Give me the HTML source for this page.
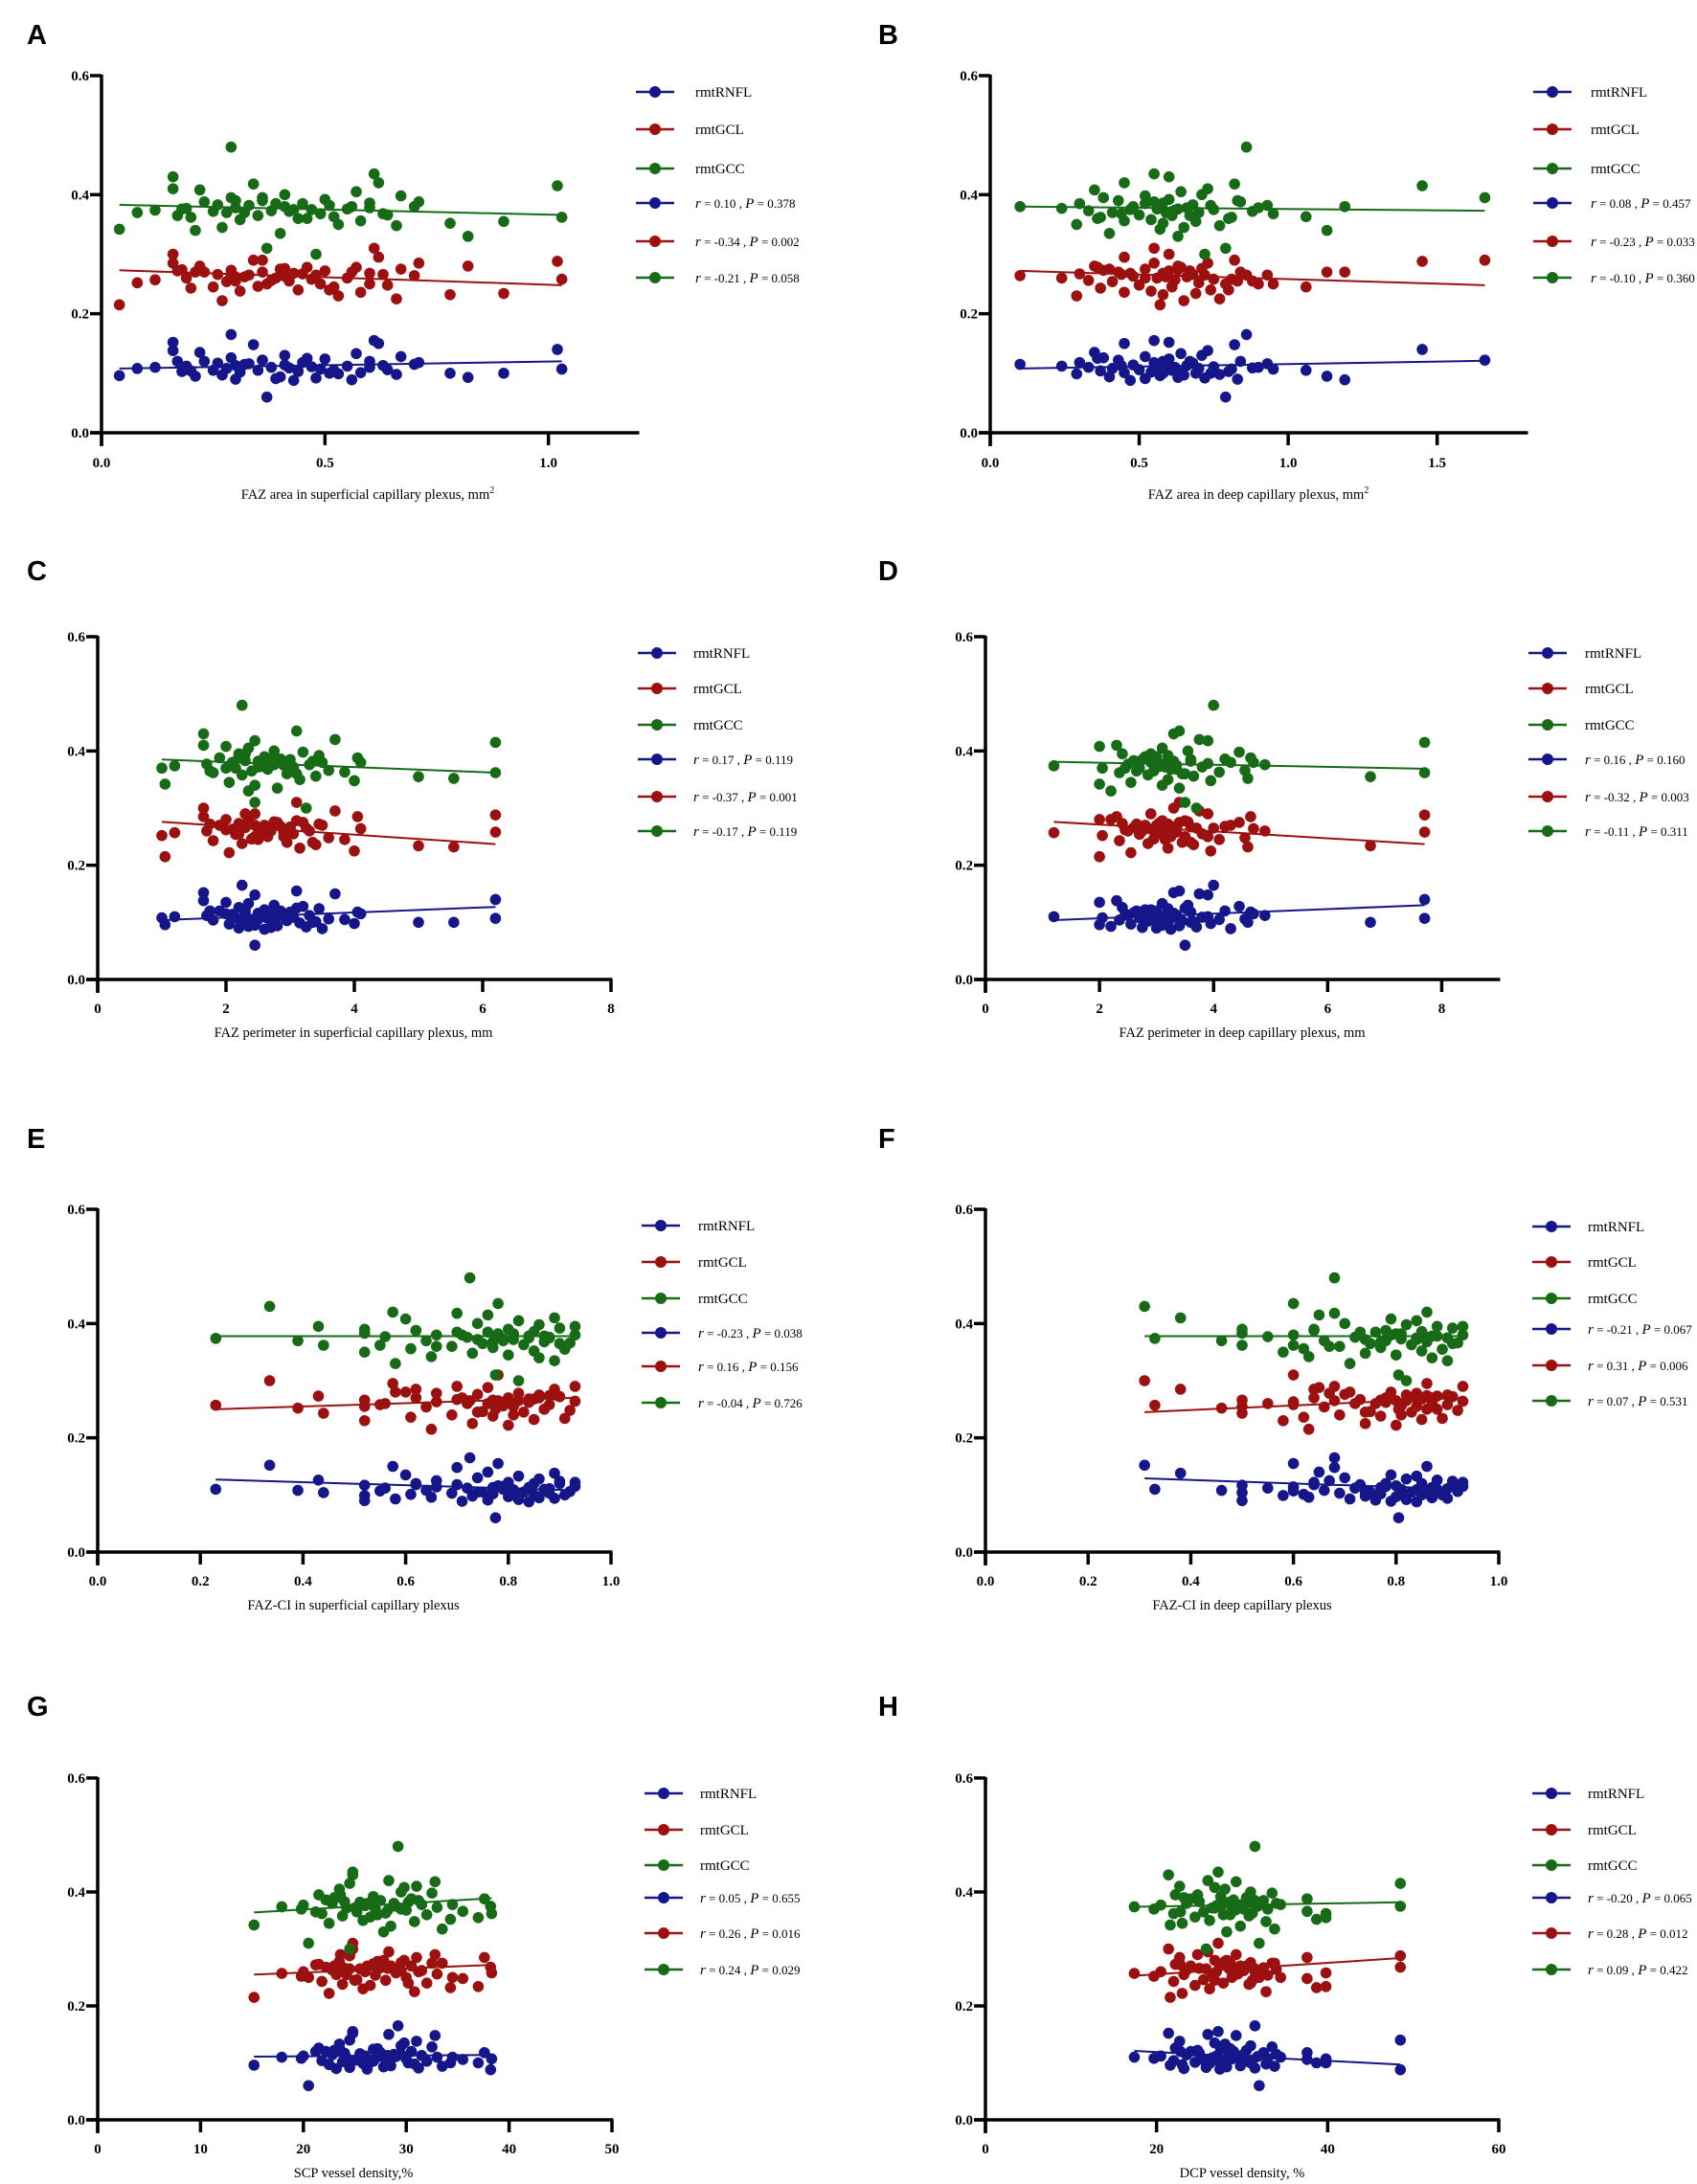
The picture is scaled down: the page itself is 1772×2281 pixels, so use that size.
<!DOCTYPE html>
<html><head><meta charset="utf-8">
<style>
html,body{margin:0;padding:0;background:#fff;}
svg{display:block;}
</style></head>
<body>
<svg id="fig" width="1772" height="2281" viewBox="0 0 1772 2281" xmlns="http://www.w3.org/2000/svg" font-family="'Liberation Serif', serif"></svg>
<script>
// shared subject outcome values (y)
const rnfl = [0.06,0.165,0.155,0.152,0.15,0.148,0.14,0.138,0.135,0.133,0.13,0.128,0.126,0.124,0.122,0.12,0.12,0.118,0.117,0.116,0.115,0.114,0.113,0.112,0.112,0.111,0.11,0.11,0.109,0.108,0.108,0.107,0.106,0.105,0.105,0.104,0.103,0.102,0.101,0.1,0.1,0.099,0.098,0.097,0.096,0.095,0.094,0.093,0.092,0.091,0.09,0.089,0.088,0.115,0.12,0.125,0.11,0.105,0.1,0.118,0.122,0.113,0.107,0.103];
const gcl = [0.25,0.265,0.31,0.30,0.295,0.29,0.288,0.285,0.28,0.278,0.276,0.275,0.273,0.272,0.27,0.27,0.268,0.267,0.266,0.265,0.264,0.263,0.262,0.26,0.26,0.258,0.257,0.256,0.255,0.254,0.252,0.25,0.248,0.246,0.245,0.243,0.24,0.238,0.236,0.234,0.232,0.23,0.225,0.222,0.215,0.27,0.275,0.28,0.265,0.26,0.255,0.27,0.268,0.262,0.272,0.278,0.25,0.245,0.24,0.285,0.29,0.266,0.258,0.274];
const gcc = [0.31,0.48,0.435,0.43,0.42,0.418,0.415,0.41,0.408,0.405,0.4,0.398,0.395,0.392,0.39,0.388,0.386,0.385,0.383,0.382,0.38,0.38,0.378,0.377,0.376,0.375,0.374,0.373,0.372,0.37,0.37,0.368,0.366,0.365,0.363,0.362,0.36,0.358,0.356,0.355,0.352,0.35,0.348,0.345,0.342,0.34,0.335,0.33,0.30,0.385,0.39,0.38,0.375,0.37,0.365,0.36,0.378,0.372,0.382,0.388,0.395,0.368,0.362,0.376];
// per-panel exposure values (x)
const xA = [0.37,0.29,0.61,0.16,0.62,0.34,1.02,0.16,0.22,0.57,0.41,0.67,0.29,0.5,0.36,0.23,0.6,0.45,0.26,0.33,0.7,0.41,0.3,0.19,0.55,0.47,0.12,0.38,0.42,0.28,0.08,0.49,0.64,0.35,0.52,0.2,0.44,0.31,0.58,0.9,0.78,0.53,0.66,0.27,0.04,0.21,0.4,0.82,0.48,0.39,0.3,0.56,0.43,0.32,0.17,0.46,0.6,0.25,0.51,0.71,0.36,0.63,1.03,0.18];
const xB = [0.79,0.86,0.55,0.6,0.45,0.82,1.45,0.73,0.35,0.64,0.71,0.52,0.38,0.6,0.43,0.84,0.58,0.3,0.68,0.93,0.1,0.48,0.66,0.24,0.56,0.75,0.62,0.33,0.88,0.41,0.7,0.95,0.5,0.61,1.06,0.37,0.8,0.54,0.45,0.69,0.58,0.29,0.77,0.65,0.57,1.13,0.4,0.63,0.72,0.52,0.83,1.19,0.47,0.59,0.67,0.36,0.9,0.61,0.74,0.55,1.66,0.44,0.81,0.63];
const xC = [2.45,2.25,3.1,1.65,3.7,2.45,6.2,1.65,2.0,2.35,2.75,3.2,2.2,3.45,2.6,1.9,2.85,3.0,2.3,2.5,4.1,2.1,2.7,1.7,3.3,2.9,1.2,2.55,3.05,2.15,1.0,2.65,3.6,2.4,3.85,1.8,2.95,2.25,3.4,5.0,5.55,3.15,4.0,2.05,1.05,2.45,2.8,2.35,3.25,2.7,2.2,3.5,2.6,2.0,1.75,3.1,2.9,2.5,3.35,4.05,2.3,3.0,6.2,2.75];
const xD = [3.5,4.0,3.4,3.3,3.75,3.9,7.7,2.3,2.0,3.1,3.55,4.45,2.4,3.2,2.8,3.0,4.2,3.6,2.6,3.3,4.7,2.9,3.15,2.5,4.9,3.35,1.2,3.05,3.8,2.7,2.05,3.25,4.55,2.95,4.1,2.35,3.45,2.85,3.65,6.75,4.6,3.2,3.95,2.55,2.0,3.1,3.4,2.2,3.7,2.75,3.0,4.3,3.25,2.45,2.65,3.5,3.9,3.15,3.6,4.65,2.9,3.35,7.7,3.05];
const xE = [0.775,0.725,0.78,0.335,0.575,0.7,0.76,0.89,0.6,0.82,0.74,0.86,0.43,0.9,0.8,0.62,0.85,0.7,0.52,0.78,0.93,0.66,0.84,0.56,0.72,0.88,0.23,0.79,0.81,0.64,0.39,0.87,0.92,0.75,0.83,0.44,0.69,0.77,0.61,0.91,0.85,0.52,0.73,0.8,0.65,0.86,0.89,0.58,0.82,0.76,0.52,0.71,0.84,0.79,0.9,0.66,0.87,0.74,0.81,0.62,0.93,0.77,0.55,0.88];
const xF = [0.805,0.68,0.6,0.31,0.86,0.68,0.65,0.38,0.79,0.84,0.7,0.82,0.88,0.91,0.64,0.78,0.85,0.73,0.5,0.8,0.93,0.6,0.87,0.55,0.72,0.9,0.33,0.81,0.84,0.66,0.46,0.86,0.92,0.75,0.83,0.5,0.69,0.77,0.62,0.89,0.85,0.58,0.74,0.8,0.63,0.87,0.9,0.71,0.82,0.76,0.5,0.79,0.84,0.78,0.91,0.67,0.88,0.74,0.81,0.64,0.93,0.77,0.6,0.86];
const xG = [20.5,29.2,24.8,24.8,28.3,32.8,24.5,31.0,29.8,23.5,29.5,32.5,21.5,26.8,23.0,30.5,22.2,27.5,24.0,25.5,28.8,22.8,31.5,20.0,26.0,29.0,17.9,33.0,24.2,27.0,19.8,30.0,35.5,25.2,28.0,21.8,32.0,23.8,26.5,37.0,34.3,25.8,30.8,22.5,15.2,28.5,33.5,27.8,24.5,31.2,23.2,26.2,38.2,29.5,21.2,27.2,34.5,25.0,30.2,37.6,23.6,28.2,38.3,26.8];
const xH = [32.0,31.5,27.2,21.4,26.0,29.3,48.5,22.7,26.8,28.0,31.0,33.5,22.2,27.5,30.5,24.0,29.0,32.5,25.0,28.5,34.0,23.5,30.0,20.5,27.0,31.8,17.4,29.5,26.5,33.0,19.7,28.8,37.6,25.5,31.2,22.0,27.8,30.8,24.5,39.8,38.7,26.2,32.8,23.0,21.6,29.8,33.8,28.2,25.8,31.5,23.2,27.4,48.5,30.2,22.8,28.6,34.5,26.8,31.0,37.6,24.8,29.2,39.8,27.6];
// fitted line values at min x / max x: [rnfl, gcl, gcc] per panel
const fitA = [[0.108,0.120],[0.273,0.248],[0.383,0.366]];
const fitB = [[0.108,0.121],[0.272,0.248],[0.380,0.373]];
const fitC = [[0.104,0.127],[0.276,0.237],[0.385,0.362]];
const fitD = [[0.104,0.130],[0.276,0.237],[0.381,0.369]];
const fitE = [[0.127,0.108],[0.250,0.270],[0.378,0.378]];
const fitF = [[0.129,0.110],[0.245,0.270],[0.378,0.378]];
const fitG = [[0.111,0.114],[0.255,0.272],[0.364,0.389]];
const fitH = [[0.121,0.097],[0.253,0.284],[0.374,0.382]];
// stats legend text
const statsA = [["0.10","0.378"],["-0.34","0.002"],["-0.21","0.058"]];
const statsB = [["0.08","0.457"],["-0.23","0.033"],["-0.10","0.360"]];
const statsC = [["0.17","0.119"],["-0.37","0.001"],["-0.17","0.119"]];
const statsD = [["0.16","0.160"],["-0.32","0.003"],["-0.11","0.311"]];
const statsE = [["-0.23","0.038"],["0.16","0.156"],["-0.04","0.726"]];
const statsF = [["-0.21","0.067"],["0.31","0.006"],["0.07","0.531"]];
const statsG = [["0.05","0.655"],["0.26","0.016"],["0.24","0.029"]];
const statsH = [["-0.20","0.065"],["0.28","0.012"],["0.09","0.422"]];
const yTicks = [0, 0.2, 0.4, 0.6];
const yTickLabels = ["0.0","0.2","0.4","0.6"];
const seriesNames = ["rmtRNFL","rmtGCL","rmtGCC"];
const colors = ["#15168a","#9c1010","#176b17"];
const ys = [rnfl, gcl, gcc];

const panels = [
 {id:"A",x:xA,fit:fitA,st:statsA,ox:106,xmax:1.2,xEnd:666,ticks:[0,0.5,1.0],tl:["0.0","0.5","1.0"],top:79,bot:452,tickY:483,titleY:521,titleX:384,title:"FAZ area in superficial capillary plexus, mm",sup:true,lx:664,tx:726,ly:[96,135,176,212,252,290],lt:[28,46]},
 {id:"B",x:xB,fit:fitB,st:statsB,ox:1034,xmax:1.8,xEnd:1594,ticks:[0,0.5,1.0,1.5],tl:["0.0","0.5","1.0","1.5"],top:79,bot:452,tickY:483,titleY:521,titleX:1314,title:"FAZ area in deep capillary plexus, mm",sup:true,lx:1601,tx:1661,ly:[96,135,176,212,252,290],lt:[917,46]},
 {id:"C",x:xC,fit:fitC,st:statsC,ox:102,xmax:8,xEnd:638,ticks:[0,2,4,6,8],tl:["0","2","4","6","8"],top:665,bot:1023,tickY:1053,titleY:1083,titleX:369,title:"FAZ perimeter in superficial capillary plexus, mm",lx:666,tx:724,ly:[682,719,757,793,832,868],lt:[28,606]},
 {id:"D",x:xD,fit:fitD,st:statsD,ox:1029,xmax:9,xEnd:1565,ticks:[0,2,4,6,8],tl:["0","2","4","6","8"],top:665,bot:1023,tickY:1053,titleY:1083,titleX:1297,title:"FAZ perimeter in deep capillary plexus, mm",lx:1596,tx:1655,ly:[682,719,757,793,832,868],lt:[917,606]},
 {id:"E",x:xE,fit:fitE,st:statsE,ox:102,xmax:1.0,xEnd:638,ticks:[0,0.2,0.4,0.6,0.8,1.0],tl:["0.0","0.2","0.4","0.6","0.8","1.0"],top:1263,bot:1621,tickY:1651,titleY:1681,titleX:369,title:"FAZ-CI in superficial capillary plexus",lx:670,tx:729,ly:[1280,1318,1356,1392,1427,1465],lt:[28,1199]},
 {id:"F",x:xF,fit:fitF,st:statsF,ox:1029,xmax:1.0,xEnd:1565,ticks:[0,0.2,0.4,0.6,0.8,1.0],tl:["0.0","0.2","0.4","0.6","0.8","1.0"],top:1263,bot:1621,tickY:1651,titleY:1681,titleX:1297,title:"FAZ-CI in deep capillary plexus",lx:1600,tx:1658,ly:[1281,1318,1356,1388,1426,1463],lt:[917,1199]},
 {id:"G",x:xG,fit:fitG,st:statsG,ox:102,xmax:50,xEnd:639,ticks:[0,10,20,30,40,50],tl:["0","10","20","30","40","50"],top:1857,bot:2214,tickY:2244,titleY:2274,titleX:369,title:"SCP vessel density,%",lx:673,tx:731,ly:[1873,1911,1948,1982,2019,2057],lt:[28,1792]},
 {id:"H",x:xH,fit:fitH,st:statsH,ox:1029,xmax:60,xEnd:1565,ticks:[0,20,40,60],tl:["0","20","40","60"],top:1857,bot:2214,tickY:2244,titleY:2274,titleX:1297,title:"DCP vessel density, %",lx:1600,tx:1658,ly:[1873,1911,1948,1982,2019,2057],lt:[917,1792]}
];

const NS = "http://www.w3.org/2000/svg";
const svg = document.getElementById("fig");
function mk(tag, attrs, parent){
  const e = document.createElementNS(NS, tag);
  for (const k in attrs) e.setAttribute(k, attrs[k]);
  (parent||svg).appendChild(e);
  return e;
}

panels.forEach(p => {
  const g = mk("g", {});
  
  
  const lastTick = p.ticks[p.ticks.length-1];
  const pxPer = (p.xEnd - p.ox) / p.xmax;
  const sx = v => p.ox + v * pxPer;
  const sy = v => p.bot - (v / 0.6) * (p.bot - p.top);

  const letter = mk("text", {x:p.lt[0], y:p.lt[1], "font-family":"'Liberation Sans', sans-serif", "font-weight":"bold", "font-size":"29"}, g);
  letter.textContent = p.id;
  
  

  // y axis
  const yax = mk("line", {x1:p.ox, y1:p.top-1, x2:p.ox, y2:p.bot+14, stroke:"#000","stroke-width":"3.5"}, g);
  
  
  yTicks.forEach((t,i) => {
    const y = sy(t);
    mk("line", {x1:p.ox-12, y1:y, x2:p.ox, y2:y, stroke:"#000","stroke-width":"3.5"}, g);
    const tx = mk("text", {x:p.ox-13, y:y+5, "text-anchor":"end","font-weight":"bold","font-size":"15"}, g);
    tx.textContent = yTickLabels[i];
    
    
  });
  // x axis
  const xax = mk("line", {x1:p.ox-12, y1:p.bot, x2:p.xEnd+1.5, y2:p.bot, stroke:"#000","stroke-width":"3.5"}, g);
  
  
  p.ticks.forEach((t,i) => {
    const x = sx(t);
    mk("line", {x1:x, y1:p.bot, x2:x, y2:p.bot+13, stroke:"#000","stroke-width":"3.5"}, g);
    const tx = mk("text", {x:x, y:p.tickY+5, "text-anchor":"middle","font-weight":"bold","font-size":"15"}, g);
    tx.textContent = p.tl[i];
    
    
  });
  const tt = mk("text", {x:p.titleX, y:p.titleY, "text-anchor":"middle","font-size":"14.5"}, g);
  tt.textContent = p.title;
  if (p.sup){ const s = mk("tspan", {dy:"-6","font-size":"10"}, tt); s.textContent = "2"; }
  
  

  // series
  ys.forEach((yv, si) => {
    const n = Math.min(p.x.length, yv.length);
    let mn = Infinity, mx = -Infinity;
    for (let i=0;i<n;i++){ mn=Math.min(mn,p.x[i]); mx=Math.max(mx,p.x[i]); }
    for (let i=0;i<n;i++){
      const c = mk("ellipse", {cx:sx(p.x[i]), cy:sy(yv[i]), rx:5.8, ry:5.8, fill:colors[si]}, g);
      
      
    }
    const f = p.fit[si];
    const ln = mk("line", {x1:sx(mn), y1:sy(f[0]), x2:sx(mx), y2:sy(f[1]), stroke:colors[si], "stroke-width":"2"}, g);
    
    
  });

  // legend
  for (let k=0;k<6;k++){
    const si = k % 3;
    const y = p.ly[k];
    const lg = mk("g", {}, g);
    
    
    mk("line", {x1:p.lx, y1:y, x2:p.lx+40, y2:y, stroke:colors[si], "stroke-width":"2.5"}, lg);
    mk("circle", {cx:p.lx+20, cy:y, r:6, fill:colors[si]}, lg);
    const t = mk("text", {x:p.tx, y:y+5, "font-size":"15"}, lg);
    if (k < 3){
      t.textContent = seriesNames[si];
    } else {
      const s = p.st[si];
      const a = mk("tspan", {"font-style":"italic"}, t); a.textContent = "r";
      const b = mk("tspan", {"font-size":"13"}, t); b.textContent = " = " + s[0] + " , ";
      const c = mk("tspan", {"font-style":"italic"}, t); c.textContent = "P";
      const d = mk("tspan", {"font-size":"13"}, t); d.textContent = " = " + s[1];
    }
  }
});
</script>
</body></html>
